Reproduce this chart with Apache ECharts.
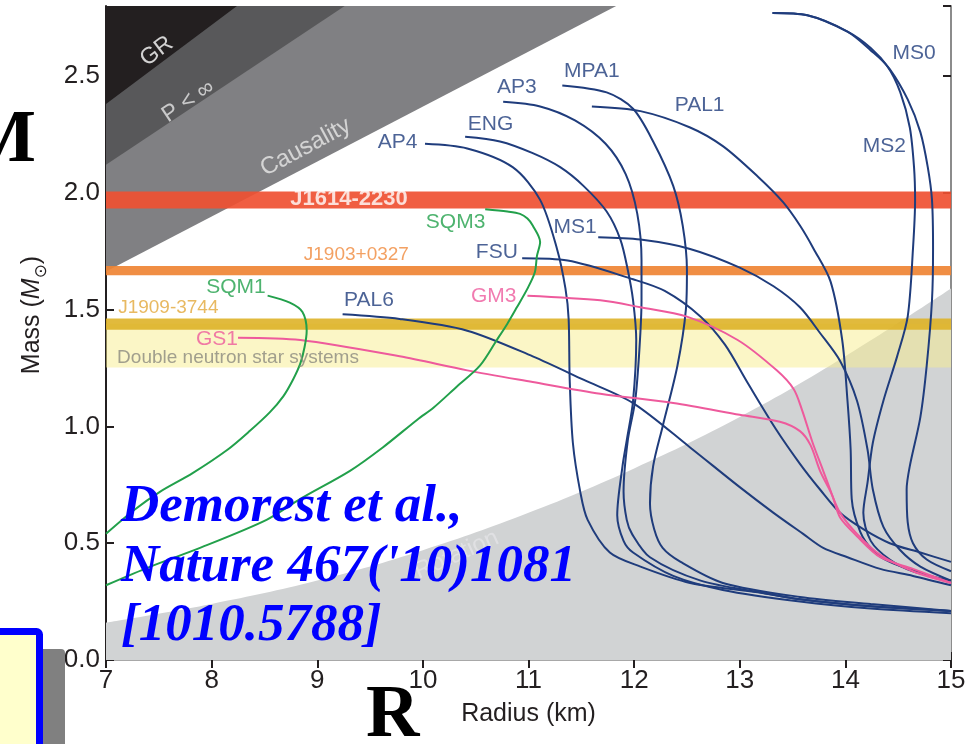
<!DOCTYPE html>
<html><head><meta charset="utf-8">
<script src="https://cdn.jsdelivr.net/npm/echarts@6/dist/echarts.min.js"></script>
<style>html,body{margin:0;padding:0;background:#fff}#c{width:971px;height:744px}</style>
</head><body><div id="c"></div>
<script>
// ---------- data (R in km, M in solar masses) ----------
const AP4  = [[10.02,2.21],[10.42,2.19],[10.85,2.11],[11.11,1.97],[11.27,1.76],[11.35,1.59],[11.38,1.46],[11.39,1.20],[11.42,0.93],[11.49,0.72],[11.56,0.60],[11.77,0.46],[12.06,0.40],[12.53,0.33],[13.17,0.29],[13.57,0.26],[14.24,0.23],[15,0.21]];
const ENG  = [[10.40,2.24],[10.73,2.22],[11.04,2.17],[11.30,2.11],[11.52,2.03],[11.74,1.92],[11.87,1.80],[11.94,1.67],[11.99,1.54],[12.02,1.37],[11.99,1.11],[11.93,0.94],[11.89,0.83],[11.84,0.62],[11.90,0.51],[11.99,0.46],[12.37,0.36],[12.84,0.30],[13.57,0.25],[14.24,0.22],[15,0.20]];
const AP3  = [[10.76,2.39],[11.11,2.37],[11.44,2.31],[11.73,2.21],[11.92,2.08],[12.03,1.91],[12.07,1.71],[12.07,1.54],[12.05,1.33],[12.01,1.11],[11.94,0.94],[11.90,0.72],[11.93,0.60],[11.98,0.54],[12.15,0.44],[12.63,0.34],[13.19,0.29],[13.57,0.26],[14.24,0.23],[15,0.21]];
const MPA1 = [[11.32,2.46],[11.74,2.43],[11.99,2.36],[12.18,2.22],[12.37,2.03],[12.46,1.86],[12.50,1.67],[12.49,1.50],[12.41,1.26],[12.27,1.00],[12.18,0.83],[12.15,0.67],[12.19,0.56],[12.27,0.48],[12.44,0.42],[12.84,0.33],[13.57,0.27],[14.24,0.24],[15,0.21]];
const PAL1 = [[11.60,2.37],[12.06,2.35],[12.53,2.28],[12.84,2.20],[13.17,2.07],[13.41,1.96],[13.57,1.86],[13.70,1.76],[13.86,1.62],[13.97,1.37],[14.02,1.11],[14.05,0.90],[14.06,0.69],[14.14,0.55],[14.26,0.47],[14.42,0.42],[14.74,0.37],[15,0.33]];
const MS1  = [[11.66,1.81],[12.06,1.80],[12.53,1.76],[13.00,1.68],[13.32,1.60],[13.57,1.51],[13.76,1.40],[13.95,1.28],[14.11,1.11],[14.21,0.90],[14.26,0.73],[14.36,0.57],[14.52,0.47],[14.71,0.40],[15,0.34]];
const FSU  = [[10.94,1.72],[11.37,1.71],[11.99,1.63],[12.29,1.58],[12.63,1.47],[12.86,1.35],[13.07,1.19],[13.34,0.99],[13.57,0.84],[13.76,0.73],[13.95,0.63],[14.17,0.56],[14.42,0.50],[14.71,0.46],[15,0.42]];
const PAL6 = [[9.24,1.48],[9.78,1.46],[10.42,1.41],[11.04,1.30],[11.52,1.20],[11.99,1.10],[12.53,0.91],[13.00,0.74],[13.32,0.63],[13.60,0.54],[13.79,0.48],[14.02,0.44],[14.33,0.39],[14.64,0.36],[15,0.32]];
const MS0  = [[13.31,2.77],[13.64,2.76],[14.02,2.69],[14.24,2.62],[14.42,2.53],[14.59,2.40],[14.71,2.26],[14.78,2.11],[14.82,1.97],[14.83,1.76],[14.82,1.54],[14.77,1.26],[14.71,1.04],[14.61,0.83],[14.58,0.73],[14.59,0.59],[14.64,0.50],[14.77,0.43],[15,0.38]];
const MS2  = [[13.31,2.77],[13.64,2.76],[14.02,2.69],[14.24,2.61],[14.40,2.54],[14.52,2.43],[14.61,2.28],[14.65,2.11],[14.66,1.97],[14.64,1.76],[14.59,1.47],[14.49,1.30],[14.36,1.11],[14.26,0.93],[14.21,0.76],[14.17,0.63],[14.24,0.51],[14.42,0.43],[14.64,0.38],[15,0.34]];
const GM3  = [[10.99,1.56],[11.68,1.54],[12.06,1.51],[12.50,1.47],[12.98,1.37],[13.35,1.24],[13.51,1.16],[13.59,1.07],[13.69,0.93],[13.79,0.81],[13.88,0.70],[13.95,0.61],[14.11,0.53],[14.33,0.44],[14.64,0.39],[15,0.33]];
const GS1  = [[8.25,1.38],[8.84,1.37],[9.78,1.30],[10.42,1.24],[11.04,1.19],[11.68,1.14],[12.37,1.10],[13.00,1.05],[13.38,1.02],[13.57,0.98],[13.67,0.92],[13.76,0.81],[13.86,0.72],[13.95,0.63],[14.11,0.54],[14.33,0.45],[14.64,0.38],[15,0.33]];
const SQM1 = [[8.53,1.56],[8.74,1.53],[8.86,1.49],[8.90,1.41],[8.88,1.34],[8.84,1.27],[8.77,1.20],[8.68,1.13],[8.55,1.06],[8.36,0.98],[8.15,0.90],[7.82,0.80],[7.51,0.72],[7.26,0.64],[7.00,0.54]];
const SQM3 = [[10.59,1.93],[10.80,1.92],[10.92,1.91],[10.99,1.89],[11.04,1.86],[11.11,1.79],[11.08,1.73],[11.06,1.66],[10.99,1.59],[10.89,1.51],[10.80,1.44],[10.70,1.37],[10.54,1.26],[10.32,1.17],[10.10,1.08],[9.95,1.03],[9.62,0.91],[9.31,0.81],[8.84,0.69],[8.52,0.60],[7.89,0.48],[7.42,0.40],[7.00,0.32]];

const curveNames  = ['AP4','ENG','AP3','MPA1','PAL1','MS1','FSU','PAL6','MS0','MS2','GM3','GS1','SQM1','SQM3'];
const curveData   = [AP4, ENG, AP3, MPA1, PAL1, MS1, FSU, PAL6, MS0, MS2, GM3, GS1, SQM1, SQM3];
const curveFamily = ['n','n','n','n','n','n','n','n','n','n','p','p','g','g'];

const curveLabelNames = ['MS0','MS2','PAL1','MPA1','AP3','ENG','AP4','MS1','FSU','PAL6','GM3','GS1','SQM3','SQM1'];
const curveLabelPos   = [[14.65,2.597],[14.37,2.199],[12.62,2.375],[11.60,2.52],[10.89,2.452],[10.64,2.293],[9.76,2.216],[11.44,1.852],[10.70,1.745],[9.49,1.539],[10.67,1.556],[8.05,1.372],[10.31,1.873],[8.23,1.594]];
const curveLabelFamily= ['n','n','n','n','n','n','n','n','n','n','p','p','g','g'];

// excluded regions (boundary points)
const grBoundary       = [[7,2.38],[8.24,2.8]];
const pInfBoundary     = [[7,2.12],[9.26,2.8]];
const causalBoundary   = [[7,1.663],[11.83,2.8]];
const rotationBoundary = [[7,0.16],[8,0.24],[9,0.34],[10,0.47],[11,0.63],[12,0.82],[13,1.04],[14,1.30],[15,1.59]];
const regionLabels     = ['GR','P < ∞','Causality','Rotation'];
const regionLabelPos   = [[7.48,2.606],[7.78,2.392],[8.89,2.195],[10.32,0.45]];

// measured pulsar mass bands
const bandNames = ['Double neutron star systems','J1909-3744','J1903+0327','J1614-2230'];
const bandLow   = [1.252, 1.414, 1.647, 1.933];
const bandHigh  = [1.44, 1.462, 1.687, 2.006];
const bandLabelPos = [[8.25,1.294],[7.59,1.507],[9.37,1.736],[9.30,1.972]];

const xRange = [7, 15];
const yRange = [0, 2.8];

// ---------- styles ----------
const SANS = '"Liberation Sans", Arial, Helvetica, sans-serif';
const famColor = {n:'#1f3c7c', p:'#ee5a9c', g:'#22a04b'};
const bandColors = ['rgba(247,237,141,0.5)','rgba(222,178,40,0.9)','rgba(239,132,52,0.92)','rgba(239,80,50,0.92)'];
const bandTextStyle = [
  {color:'#8b8a80', fontSize:19},
  {color:'#e2a83a', fontSize:19},
  {color:'#f08a3c', fontSize:19},
  {color:'#ffffff', fontSize:22, fontWeight:'bold'}
];
const regionColors = ['#231f20','#58585a','#808083','#d1d3d4'];
const regionTextStyle = [
  {color:'#ffffff', fontSize:23, rotate:37},
  {color:'#e6e6e6', fontSize:23, rotate:34},
  {color:'#e8e8e8', fontSize:24, rotate:28},
  {color:'#e4e4e6', fontSize:24, rotate:24}
];

const series = [];
// gray excluded regions
series.push({type:'line', data:causalBoundary, showSymbol:false, silent:true, lineStyle:{width:0}, areaStyle:{origin:'end', color:regionColors[2], opacity:1}});
series.push({type:'line', data:pInfBoundary, showSymbol:false, silent:true, lineStyle:{width:0}, areaStyle:{origin:'end', color:regionColors[1], opacity:1}});
series.push({type:'line', data:grBoundary, showSymbol:false, silent:true, lineStyle:{width:0}, areaStyle:{origin:'end', color:regionColors[0], opacity:1}});
series.push({type:'line', data:rotationBoundary, smooth:0.4, showSymbol:false, silent:true, lineStyle:{width:0}, areaStyle:{origin:'start', color:regionColors[3], opacity:1}});
// bands
bandNames.forEach((n,i)=>{
  series.push({type:'line', name:n, data:[[xRange[0],bandHigh[i]],[xRange[1],bandHigh[i]]], showSymbol:false, silent:true,
    lineStyle:{width:0}, areaStyle:{origin:bandLow[i], color:bandColors[i], opacity:1}});
});
// curves
curveNames.forEach((n,i)=>{
  series.push({type:'line', name:n, data:curveData[i], smooth:0.3, showSymbol:false, silent:true,
    lineStyle:{width:2, color:famColor[curveFamily[i]]}});
});
// labels
const labelItems = [];
curveLabelNames.forEach((n,i)=>labelItems.push({name:n, value:curveLabelPos[i],
  label:{color:famColor[curveLabelFamily[i]], fontSize:21}}));
regionLabels.forEach((n,i)=>labelItems.push({name:n, value:regionLabelPos[i], label:regionTextStyle[i]}));
bandNames.forEach((n,i)=>labelItems.push({name:n, value:bandLabelPos[i], label:bandTextStyle[i]}));
series.push({type:'scatter', data:labelItems, symbolSize:0, silent:true, z:5,
  label:{show:true, position:'inside', formatter:'{b}', fontFamily:SANS}});

const dark = '#231f20';
const option = {
  animation:false,
  grid:{left:106, right:20, top:6, bottom:84, containLabel:false},
  xAxis:[
    {type:'value', min:xRange[0], max:xRange[1], interval:1, position:'bottom',
     axisLine:{lineStyle:{color:dark, width:2}}, axisTick:{inside:true, length:8, lineStyle:{color:dark, width:2}},
     axisLabel:{fontSize:26, color:dark, margin:8, fontFamily:SANS}, splitLine:{show:false},
     name:'Radius (km)', nameLocation:'middle', nameGap:42, nameTextStyle:{fontSize:25, color:dark, fontFamily:SANS}},
    {type:'value', min:xRange[0], max:xRange[1], interval:1, position:'top',
     axisLine:{lineStyle:{color:'#a8a8a8', width:2}}, axisTick:{inside:true, length:8, lineStyle:{color:dark, width:2}},
     axisLabel:{show:false}, splitLine:{show:false}}
  ],
  yAxis:[
    {type:'value', min:yRange[0], max:yRange[1], interval:0.5, position:'left',
     axisLine:{lineStyle:{color:dark, width:2}}, axisTick:{inside:true, length:8, lineStyle:{color:dark, width:2}},
     axisLabel:{fontSize:26, color:dark, margin:6, fontFamily:SANS, showMaxLabel:false, formatter:v=>v.toFixed(1)},
     splitLine:{show:false},
     name:'{a|Mass (}{i|M}{s|⊙}{a|)}', nameLocation:'middle', nameGap:56,
     nameTextStyle:{fontSize:25, color:dark, fontFamily:SANS, padding:[0,0,0,36],
       rich:{a:{fontSize:25, lineHeight:36, verticalAlign:'middle', fontFamily:SANS, color:dark},
             i:{fontSize:25, lineHeight:36, verticalAlign:'middle', fontStyle:'italic', fontFamily:SANS, color:dark},
             s:{fontSize:17, lineHeight:17, verticalAlign:'bottom', fontFamily:'"DejaVu Sans"', color:dark}}}},
    {type:'value', min:yRange[0], max:yRange[1], interval:0.5, position:'right',
     axisLine:{lineStyle:{color:'#8c8c8c', width:2}}, axisTick:{inside:true, length:8, lineStyle:{color:dark, width:2}},
     axisLabel:{show:false}, splitLine:{show:false}}
  ],
  series:series,
  graphic:[
    {type:'rect', z:100, shape:{x:-10, y:649, width:75, height:120, r:[0,4,0,0]}, style:{fill:'#808080'}},
    {type:'rect', z:101, shape:{x:-20, y:631.5, width:59.5, height:140, r:[0,3,0,0]}, style:{fill:'#ffffcc', stroke:'#0000ff', lineWidth:7}},
    {type:'text', z:102, x:36, y:142, style:{text:'M', font:'bold 75px "Liberation Serif"', fill:'#000', align:'right', verticalAlign:'middle'}},
    {type:'text', z:102, x:366, y:717, style:{text:'R', font:'bold 74px "Liberation Serif"', fill:'#000', align:'left', verticalAlign:'middle'}},
    {type:'text', z:102, x:121, y:507, style:{text:'Demorest et al.,', font:'italic bold 53px "Liberation Serif"', fill:'#0000ff', align:'left', verticalAlign:'middle'}},
    {type:'text', z:102, x:121, y:567, style:{text:"Nature 467('10)1081", font:'italic bold 53px "Liberation Serif"', fill:'#0000ff', align:'left', verticalAlign:'middle'}},
    {type:'text', z:102, x:121, y:626, style:{text:'[1010.5788]', font:'italic bold 53px "Liberation Serif"', fill:'#0000ff', align:'left', verticalAlign:'middle'}}
  ]
};
const chart = echarts.init(document.getElementById('c'));
chart.setOption(option);
</script></body></html>
